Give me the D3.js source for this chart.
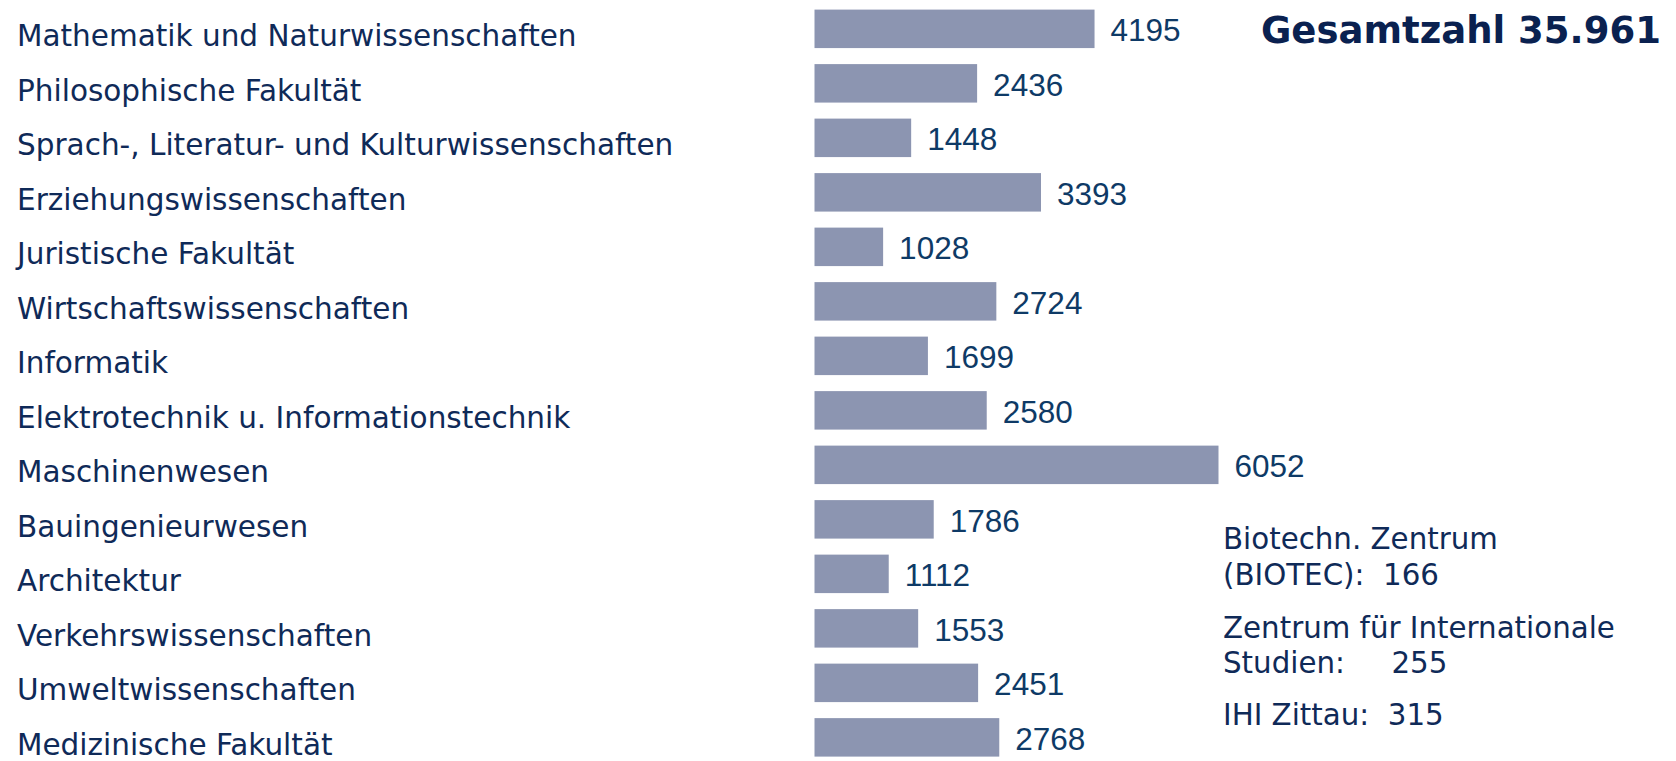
<!DOCTYPE html>
<html>
<head>
<meta charset="utf-8">
<script src="https://cdn.jsdelivr.net/npm/d3@7"></script>
<style>
  body { margin: 0; background: #fff; }
  svg { display: block; }
</style>
</head>
<body>
<div id="chart"></div>
<script>
var faculties = [
    "Mathematik und Naturwissenschaften",
    "Philosophische Fakultät",
    "Sprach-, Literatur- und Kulturwissenschaften",
    "Erziehungswissenschaften",
    "Juristische Fakultät",
    "Wirtschaftswissenschaften",
    "Informatik",
    "Elektrotechnik u. Informationstechnik",
    "Maschinenwesen",
    "Bauingenieurwesen",
    "Architektur",
    "Verkehrswissenschaften",
    "Umweltwissenschaften",
    "Medizinische Fakultät"
];

var students = [4195, 2436, 1448, 3393, 1028, 2724, 1699, 2580, 6052, 1786, 1112, 1553, 2451, 2768];

var totalLabel = "Gesamtzahl 35.961";

var notes = [
    "Biotechn. Zentrum",
    "(BIOTEC):\u00a0 166",
    "Zentrum für Internationale",
    "Studien:\u00a0\u00a0\u00a0\u00a0 255",
    "IHI Zittau:\u00a0 315"
];

function init(){

    var w = 1676;
    var h = 761;

    var dataset = faculties.map(function(d, i){
        return { name: d, value: students[i] };
    });

    var svg = d3.select("#chart")
                .append("svg")
                .attr("width", w)
                .attr("height", h);

    var yScale = d3.scaleBand()
                    .domain(faculties)
                    .range([9.6, 9.6 + 13 * 54.5 + 38.5])
                    .paddingInner(0.294)
                    .paddingOuter(0);

    var xScale = d3.scaleLinear()
                    .domain([0, d3.max(students)])
                    .range([814.5, 1218.5]);

    // bars
    svg.selectAll("rect.bar")
        .data(dataset)
        .enter()
        .append("rect")
            .attr("class", "bar")
            .attr("x", xScale(0))
            .attr("y", function(d){ return yScale(d.name); })
            .attr("width", function(d){ return xScale(d.value) - xScale(0); })
            .attr("height", yScale.bandwidth())
            .attr("fill", "#8c95b1");

    // value labels
    svg.selectAll("text.value")
        .data(dataset)
        .enter()
        .append("text")
            .attr("class", "value")
            .attr("x", function(d){ return xScale(d.value) + 16; })
            .attr("y", function(d){ return yScale(d.name) + yScale.bandwidth() / 2 + 12.5; })
            .attr("fill", "#0e3a66")
            .style("font-family", "'Liberation Sans', Arial, sans-serif")
            .style("font-size", "31.5px")
            .text(function(d){ return d.value; });

    // category labels
    svg.selectAll("text.cat")
        .data(dataset)
        .enter()
        .append("text")
            .attr("class", "cat")
            .attr("x", 17)
            .attr("y", function(d){ return yScale(d.name) + yScale.bandwidth() / 2 + 17.5; })
            .attr("fill", "#0f2a58")
            .style("font-family", "'DejaVu Sans', Verdana, sans-serif")
            .style("font-size", "29.5px")
            .text(function(d){ return d.name; });

    // total
    svg.append("text")
        .attr("x", 1261)
        .attr("y", 42.5)
        .attr("fill", "#0a2150")
        .style("font-family", "'DejaVu Sans', Verdana, sans-serif")
        .style("font-weight", "bold")
        .style("font-size", "37px")
        .text(totalLabel);

    // side notes
    var noteY = [549, 585, 638, 673, 725];
    svg.selectAll("text.note")
        .data(notes)
        .enter()
        .append("text")
            .attr("class", "note")
            .attr("x", 1223)
            .attr("y", function(d, i){ return noteY[i]; })
            .attr("fill", "#0f2a58")
            .style("font-family", "'DejaVu Sans', Verdana, sans-serif")
            .style("font-size", "29.3px")
            .text(function(d){ return d; });
}
window.onload = init;
</script>
</body>
</html>
